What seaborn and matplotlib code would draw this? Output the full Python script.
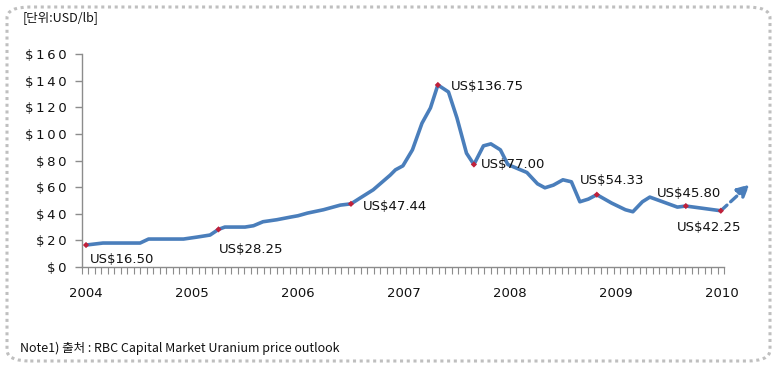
import numpy as np
import pandas as pd
import matplotlib.pyplot as plt
import seaborn as sns
from matplotlib.patches import FancyBboxPatch
from matplotlib.ticker import FixedLocator

# data (year as decimal, USD/lb)
years = [2004.00, 2004.16, 2004.51, 2004.59, 2004.92, 2005.05, 2005.17, 2005.25,
         2005.31, 2005.50, 2005.58, 2005.67, 2005.80, 2005.93, 2006.00, 2006.09,
         2006.24, 2006.40, 2006.50, 2006.61, 2006.71, 2006.87, 2006.92, 2006.99,
         2007.08, 2007.17, 2007.25, 2007.32, 2007.42, 2007.50, 2007.59, 2007.66,
         2007.75, 2007.82, 2007.91, 2007.98, 2008.16, 2008.26, 2008.33, 2008.41,
         2008.50, 2008.58, 2008.66, 2008.74, 2008.82, 2008.96, 2009.09, 2009.16,
         2009.25, 2009.32, 2009.58, 2009.66, 2009.99]
prices = [16.5, 18, 18, 21, 21, 22.5, 24, 28.25,
          30, 30, 31, 34, 35.5, 37.5, 38.5, 40.5,
          43, 46.5, 47.44, 53, 58, 69, 73, 76,
          88, 108, 119.5, 136.75, 131.5, 112, 85.5, 77,
          91, 92.5, 88, 77, 71, 62.5, 59.5, 61.5,
          65.5, 64, 49, 51, 54.33, 48, 43, 41.5,
          49, 52.5, 45, 45.8, 42.25]

# highlighted points
mark_years = [2004.00, 2005.25, 2006.50, 2007.32, 2007.66, 2008.82, 2009.66, 2009.99]
mark_prices = [16.50, 28.25, 47.44, 136.75, 77.00, 54.33, 45.80, 42.25]
mark_labels = ["US$16.50", "US$28.25", "US$47.44", "US$136.75",
               "US$77.00", "US$54.33", "US$45.80", "US$42.25"]
# label offsets in pixels from each point
label_offsets = [(4, -14), (0, -20), (12, -3), (13, -2),
                 (7, 0), (-17, 14), (-29, 13), (-44, -17)]

# outlook arrow target
outlook_year = 2010.26
outlook_price = 62

year_ticks = [2004, 2005, 2006, 2007, 2008, 2009, 2010]
price_ticks = [0, 20, 40, 60, 80, 100, 120, 140, 160]

df = pd.DataFrame({"year": years, "price": prices})
marks = pd.DataFrame({"year": mark_years, "price": mark_prices})

sns.set_style("white")
plt.rcParams['font.family'] = ['DejaVu Sans', 'Noto Sans CJK KR']

line_color = "#4A7EBB"
text_color = "#111111"
x_lo, x_hi = 2003.962, 2010.02

fig = plt.figure(figsize=(7.77, 3.68), dpi=100)
ax = fig.add_axes([82 / 777, 1 - 267 / 368, (724 - 82) / 777, (267 - 54) / 368])

sns.lineplot(data=df, x="year", y="price", ax=ax, color=line_color, linewidth=2.6)
sns.scatterplot(data=marks, x="year", y="price", ax=ax, color="#C0203A",
                marker="D", s=10, edgecolor="none", zorder=5)

# dashed outlook arrow
ax.annotate("", xy=(outlook_year, outlook_price), xytext=(mark_years[-1], mark_prices[-1]),
            arrowprops=dict(arrowstyle="-|>,head_length=0.7,head_width=0.35",
                            color=line_color, lw=2.4, linestyle=(0, (2.5, 1.5)),
                            shrinkA=0, shrinkB=0),
            annotation_clip=False)

for x, y, lab, (dx, dy) in zip(mark_years, mark_prices, mark_labels, label_offsets):
    ax.annotate(lab, xy=(x, y), xytext=(dx, dy), textcoords="offset pixels",
                ha="left", va="center", fontsize=9.5, color=text_color,
                annotation_clip=False)

ax.set_xlim(x_lo, x_hi)
ax.set_ylim(0, 160)
ax.set_xlabel("")
ax.set_ylabel("")

ax.set_yticks(price_ticks)
ax.set_yticklabels(["\u2009".join(f"${v}") for v in price_ticks], fontsize=9.5)
ax.set_xticks(year_ticks)
ax.set_xticklabels([str(y) for y in year_ticks], fontsize=9.5)
ax.xaxis.set_minor_locator(FixedLocator(np.linspace(x_lo, x_hi, 100)))

for side in ["top", "right"]:
    ax.spines[side].set_visible(False)
for side in ["left", "bottom"]:
    ax.spines[side].set_color("#8C8C8C")
    ax.spines[side].set_linewidth(1)

ax.tick_params(axis="y", which="major", left=True, length=5, width=1,
               color="#8C8C8C", pad=6, labelcolor=text_color)
ax.tick_params(axis="x", which="major", bottom=False, pad=11, labelcolor=text_color)
ax.tick_params(axis="x", which="minor", bottom=True, length=5, width=0.8,
               color="#8C8C8C")

# dotted frame round the whole chart
frame = FancyBboxPatch((7 / 777, 7 / 368), 763 / 777, 354 / 368,
                       boxstyle="round,pad=0,rounding_size=0.03",
                       transform=fig.transFigure, fill=False,
                       edgecolor="#BFBFBF", linewidth=2.2, linestyle=(0, (1, 1.2)))
fig.patches.append(frame)

fig.text(23 / 777, 1 - 18 / 368, "[단위:USD/lb]", fontsize=9, va="center",
         ha="left", color=text_color, family=['Noto Sans CJK KR', 'DejaVu Sans'])
fig.text(20 / 777, 1 - 348 / 368, "Note1) 출처 : RBC Capital Market Uranium price outlook",
         fontsize=9, va="center", ha="left", color=text_color,
         family=['Noto Sans CJK KR', 'DejaVu Sans'])

fig.savefig("out.png", dpi=100)
